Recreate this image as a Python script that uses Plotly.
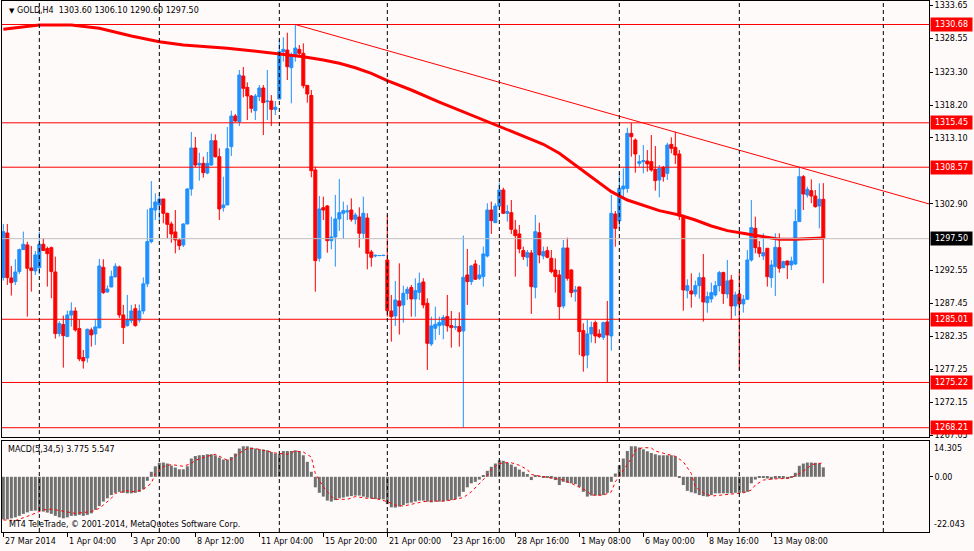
import plotly.graph_objects as go

# GOLD H4 bars, 27 Mar 2014 .. 13 May 2014
opens = [
    1291.47, 1298.38, 1291.42, 1290.85, 1292.40, 1295.80, 1296.53, 1292.96, 1292.50, 1293.01,
    1296.63, 1295.96, 1296.11, 1292.34, 1282.79, 1284.19, 1282.33, 1285.68, 1286.30, 1283.57,
    1279.08, 1279.03, 1283.36, 1282.74, 1283.67, 1293.07, 1289.24, 1290.02, 1291.57, 1293.12,
    1285.68, 1284.03, 1284.81, 1286.66, 1284.90, 1286.30, 1290.50, 1297.04, 1301.94, 1302.72,
    1303.65, 1301.43, 1299.77, 1298.54, 1297.30, 1296.52, 1299.77, 1305.20, 1311.55, 1308.91,
    1309.17, 1307.67, 1308.91, 1312.68, 1310.20, 1302.30, 1302.72, 1311.75, 1316.50, 1315.62,
    1322.70, 1320.94, 1319.60, 1317.33, 1319.50, 1320.84, 1318.72, 1318.82, 1317.53, 1319.13,
    1326.47, 1326.72, 1323.99, 1325.95, 1326.83, 1326.21, 1321.25, 1319.70, 1308.14, 1294.46,
    1302.30, 1302.56, 1297.19, 1297.76, 1300.55, 1301.43, 1301.63, 1301.94, 1300.50, 1300.86,
    1298.33, 1300.70, 1295.44, 1294.82, 1294.87, 1294.87, 1294.20, 1286.30, 1285.53, 1287.85,
    1287.23, 1289.04, 1289.92, 1288.16, 1289.19, 1290.79, 1287.49, 1281.19, 1283.62, 1284.03,
    1284.13, 1285.42, 1284.03, 1283.77, 1283.88, 1283.20, 1291.88, 1290.85, 1293.58, 1291.36,
    1291.62, 1294.82, 1301.94, 1299.98, 1302.56, 1305.04, 1301.43, 1301.53, 1298.85, 1298.23,
    1295.65, 1294.61, 1295.29, 1289.97, 1298.43, 1294.82, 1295.64, 1294.46, 1292.65, 1291.88,
    1287.07, 1296.06, 1292.65, 1289.29, 1290.02, 1283.25, 1279.48, 1282.74, 1284.49, 1282.74,
    1282.22, 1284.60, 1282.43, 1301.32, 1300.24, 1305.19, 1305.30, 1313.82, 1312.78, 1309.17,
    1309.43, 1309.53, 1309.43, 1308.24, 1306.59, 1308.55, 1307.62, 1312.11, 1311.65, 1310.62,
    1301.01, 1289.45, 1289.40, 1288.93, 1290.22, 1291.46, 1287.59, 1288.16, 1288.78, 1290.22,
    1292.24, 1288.93, 1291.10, 1287.07, 1288.93, 1287.39, 1288.11, 1294.20, 1299.10, 1296.11,
    1294.82, 1296.01, 1291.46, 1293.17, 1296.11, 1293.01, 1294.04, 1293.42, 1293.58, 1300.14,
    1307.11, 1304.27, 1304.94, 1304.11, 1302.56, 1303.60,
]
highs = [
    1299.78, 1299.78, 1293.27, 1294.31, 1295.96, 1298.59, 1297.04, 1296.37, 1295.60, 1298.59,
    1297.56, 1296.27, 1296.27, 1294.72, 1284.70, 1285.58, 1286.35, 1287.64, 1286.87, 1285.01,
    1280.26, 1283.57, 1283.72, 1285.01, 1294.36, 1294.31, 1290.28, 1292.55, 1293.69, 1293.32,
    1287.23, 1288.78, 1287.23, 1287.34, 1287.30, 1291.50, 1302.05, 1306.43, 1304.52, 1304.52,
    1303.65, 1301.53, 1300.13, 1301.94, 1297.55, 1299.88, 1305.30, 1314.02, 1313.25, 1310.82,
    1310.20, 1310.93, 1313.77, 1313.66, 1311.49, 1307.11, 1314.80, 1317.33, 1316.81, 1323.63,
    1324.09, 1321.72, 1319.75, 1319.91, 1321.30, 1321.30, 1323.63, 1319.75, 1318.82, 1328.27,
    1328.69, 1329.41, 1326.36, 1330.68, 1327.50, 1327.76, 1321.25, 1320.53, 1308.65, 1304.11,
    1304.01, 1302.72, 1300.91, 1304.27, 1306.74, 1303.23, 1302.72, 1303.75, 1301.53, 1302.36,
    1304.01, 1301.43, 1295.75, 1295.02, 1294.92, 1294.97, 1301.17, 1288.78, 1290.95, 1293.68,
    1290.22, 1290.07, 1290.33, 1291.36, 1292.24, 1291.36, 1288.26, 1285.42, 1286.97, 1285.42,
    1285.68, 1288.78, 1286.30, 1285.17, 1286.10, 1297.97, 1295.90, 1293.43, 1294.20, 1293.43,
    1296.27, 1302.98, 1303.24, 1302.98, 1306.18, 1305.40, 1302.72, 1303.49, 1300.40, 1299.62,
    1296.27, 1295.75, 1295.75, 1301.17, 1299.98, 1296.27, 1296.26, 1295.75, 1294.46, 1292.65,
    1297.30, 1297.66, 1292.75, 1290.17, 1290.07, 1284.39, 1285.01, 1284.65, 1284.80, 1283.46,
    1284.65, 1287.85, 1304.27, 1301.79, 1307.62, 1308.40, 1314.69, 1315.45, 1313.04, 1310.46,
    1312.01, 1311.23, 1313.56, 1311.85, 1308.91, 1308.76, 1312.37, 1313.20, 1314.07, 1311.23,
    1301.20, 1291.20, 1292.13, 1291.00, 1292.24, 1295.13, 1289.30, 1290.69, 1290.95, 1292.50,
    1292.39, 1294.20, 1291.88, 1289.30, 1292.24, 1288.78, 1295.75, 1303.49, 1300.91, 1297.14,
    1298.33, 1296.01, 1294.20, 1298.33, 1298.33, 1294.10, 1294.10, 1294.71, 1302.05, 1308.57,
    1307.36, 1305.56, 1306.69, 1305.04, 1306.07, 1306.10,
]
lows = [
    1291.00, 1290.33, 1288.68, 1290.33, 1292.03, 1295.75, 1285.42, 1289.30, 1291.88, 1291.98,
    1295.60, 1290.07, 1288.27, 1282.02, 1282.33, 1277.52, 1282.33, 1283.87, 1283.10, 1278.51,
    1277.37, 1278.30, 1280.78, 1281.04, 1283.67, 1288.94, 1289.14, 1289.97, 1291.52, 1285.22,
    1281.19, 1283.87, 1284.39, 1283.87, 1284.50, 1285.80, 1290.00, 1296.78, 1300.39, 1300.24,
    1299.88, 1297.55, 1296.88, 1295.23, 1295.75, 1296.21, 1299.77, 1304.16, 1308.60, 1306.49,
    1306.95, 1307.47, 1308.81, 1310.05, 1300.39, 1301.68, 1302.72, 1310.31, 1315.62, 1314.95,
    1319.39, 1315.88, 1317.02, 1315.88, 1318.82, 1313.56, 1315.88, 1314.95, 1316.66, 1319.13,
    1324.92, 1322.08, 1318.46, 1324.92, 1325.69, 1320.79, 1318.57, 1307.00, 1289.29, 1293.94,
    1300.39, 1295.33, 1295.85, 1293.17, 1298.69, 1297.45, 1300.39, 1300.14, 1299.72, 1296.11,
    1297.45, 1292.75, 1293.17, 1294.61, 1294.82, 1294.82, 1285.42, 1281.55, 1283.98, 1282.64,
    1284.49, 1288.00, 1285.42, 1285.42, 1288.01, 1286.71, 1277.16, 1280.88, 1281.81, 1282.59,
    1281.91, 1283.10, 1280.62, 1283.36, 1280.78, 1268.21, 1287.23, 1290.33, 1291.10, 1291.10,
    1290.07, 1294.61, 1298.23, 1299.98, 1302.46, 1301.33, 1300.14, 1298.23, 1291.62, 1295.23,
    1294.20, 1293.17, 1285.84, 1288.26, 1293.68, 1294.30, 1294.46, 1292.13, 1289.14, 1284.91,
    1286.71, 1291.00, 1288.42, 1287.74, 1279.48, 1276.90, 1277.42, 1281.39, 1281.29, 1282.07,
    1281.81, 1275.22, 1280.16, 1296.26, 1299.10, 1303.75, 1304.63, 1310.20, 1307.72, 1308.65,
    1307.62, 1307.88, 1307.88, 1304.94, 1303.90, 1306.33, 1306.59, 1310.72, 1309.07, 1300.39,
    1286.35, 1288.26, 1286.82, 1288.52, 1288.21, 1284.65, 1286.04, 1287.59, 1288.52, 1289.30,
    1287.39, 1288.26, 1285.01, 1285.53, 1277.16, 1286.04, 1288.00, 1293.94, 1295.23, 1294.61,
    1294.20, 1290.07, 1289.91, 1288.62, 1292.24, 1292.91, 1291.26, 1292.65, 1293.42, 1300.14,
    1301.94, 1303.85, 1302.98, 1302.31, 1299.10, 1290.60,
]
closes = [
    1298.59, 1291.47, 1290.69, 1292.34, 1295.80, 1296.63, 1292.91, 1292.55, 1294.98, 1296.63,
    1295.65, 1295.18, 1292.40, 1282.79, 1284.34, 1282.48, 1285.68, 1286.30, 1283.36, 1278.87,
    1278.56, 1283.46, 1282.59, 1283.83, 1293.27, 1289.14, 1289.71, 1291.62, 1293.22, 1285.68,
    1283.72, 1284.96, 1286.30, 1284.03, 1286.30, 1290.50, 1297.04, 1302.20, 1303.18, 1303.65,
    1301.43, 1299.72, 1298.23, 1297.30, 1296.42, 1299.77, 1305.20, 1311.55, 1308.91, 1309.17,
    1307.73, 1309.17, 1312.68, 1310.20, 1302.10, 1302.72, 1311.44, 1316.50, 1315.73, 1322.85,
    1320.79, 1319.60, 1317.69, 1319.60, 1320.84, 1318.57, 1318.82, 1317.53, 1317.84, 1326.47,
    1326.83, 1324.14, 1325.95, 1327.03, 1326.21, 1321.20, 1319.91, 1308.03, 1294.10, 1302.10,
    1301.94, 1297.19, 1297.76, 1300.55, 1301.53, 1301.84, 1301.79, 1300.50, 1301.17, 1298.33,
    1301.43, 1295.23, 1294.61, 1294.92, 1294.89, 1294.92, 1286.35, 1285.42, 1288.00, 1287.07,
    1289.04, 1289.66, 1288.16, 1289.45, 1290.59, 1287.23, 1281.29, 1283.98, 1284.24, 1284.50,
    1285.27, 1283.98, 1283.72, 1283.88, 1283.10, 1291.52, 1290.85, 1293.27, 1291.21, 1291.88,
    1295.13, 1301.94, 1300.29, 1302.56, 1305.04, 1301.43, 1301.69, 1298.95, 1297.97, 1295.90,
    1294.72, 1295.34, 1290.07, 1298.59, 1294.98, 1295.49, 1294.61, 1292.39, 1291.62, 1286.97,
    1296.06, 1291.36, 1289.14, 1289.55, 1283.10, 1279.33, 1282.74, 1283.77, 1282.43, 1282.32,
    1284.49, 1282.58, 1301.43, 1299.10, 1305.30, 1305.66, 1313.82, 1313.30, 1310.62, 1309.43,
    1309.58, 1309.07, 1308.14, 1306.49, 1308.40, 1307.10, 1312.01, 1311.49, 1310.46, 1301.01,
    1289.55, 1290.22, 1288.93, 1290.22, 1291.46, 1287.69, 1288.52, 1289.14, 1290.22, 1292.24,
    1288.99, 1290.95, 1287.07, 1288.78, 1287.39, 1288.11, 1294.20, 1299.21, 1296.11, 1295.23,
    1295.34, 1291.62, 1293.42, 1296.16, 1292.91, 1293.94, 1293.42, 1294.04, 1300.14, 1307.11,
    1304.42, 1305.14, 1304.11, 1302.46, 1303.60, 1297.50,
]

# MACD(5,34,5) main histogram, one value per bar
macd_hist = [
    -17.0, -17.0, -16.6, -16.2, -15.6, -14.8, -14.2, -13.6, -13.5, -13.6,
    -13.9, -14.3, -14.8, -15.6, -16.2, -16.6, -16.2, -15.6, -15.6, -15.2,
    -15.6, -15.2, -14.6, -13.2, -11.7, -9.9, -8.6, -7.3, -6.4, -6.0,
    -6.4, -6.6, -6.6, -6.4, -6.0, -5.0, -1.6, 2.0, 4.2, 5.6,
    5.7, 5.3, 4.5, 3.7, 3.0, 3.0, 4.2, 7.3, 8.3, 8.6,
    8.7, 9.0, 9.0, 8.6, 7.7, 6.9, 6.9, 7.9, 9.3, 11.3,
    12.2, 12.2, 11.7, 11.3, 11.1, 10.9, 10.6, 9.9, 9.3, 9.0,
    10.3, 10.3, 10.3, 10.6, 10.3, 8.6, 6.0, 2.0, -4.2, -6.4,
    -7.9, -9.5, -9.9, -9.3, -8.6, -8.3, -7.9, -7.7, -7.5, -7.5,
    -7.9, -8.3, -8.7, -8.9, -9.0, -9.0, -10.9, -12.2, -12.3, -11.9,
    -11.3, -10.6, -10.3, -9.9, -9.5, -9.5, -9.9, -10.2, -9.9, -9.9,
    -9.8, -9.5, -9.3, -8.9, -7.9, -6.0, -4.2, -2.6, -2.0, -1.1,
    0.4, 2.4, 4.0, 5.3, 6.6, 6.4, 5.6, 4.9, 4.0, 2.9,
    2.0, 1.1, -1.3, 0.4, 0.3, -0.3, -0.3, -0.7, -1.3, -3.3,
    -2.0, -2.4, -2.6, -2.9, -4.0, -6.0, -7.9, -7.5, -7.5, -7.5,
    -7.3, -6.4, -2.0, 1.3, 4.6, 7.3, 10.3, 12.2, 12.2, 11.7,
    11.0, 10.2, 9.5, 9.0, 8.6, 8.6, 8.6, 8.6, 8.2, -0.2,
    -3.3, -5.6, -6.2, -6.6, -7.3, -7.7, -7.9, -7.3, -6.6, -6.6,
    -6.6, -6.6, -6.6, -6.4, -6.4, -6.4, -6.0, -2.6, -1.1, -0.4,
    -0.3, -0.7, -1.1, -0.7, -0.7, -0.7, -0.9, -0.3, 1.6, 4.4,
    5.3, 5.7, 5.7, 5.6, 5.3, 3.775,
]

# MACD signal line, read at a subset of bars
sig_bar = [0, 3, 7, 10, 12, 15, 18, 22, 24, 27, 28, 31, 33, 35, 37, 38, 40, 42, 45, 47,
           48, 51, 53, 56, 57, 59, 61, 63, 66, 68, 71, 73, 75, 77, 78, 80, 82, 83, 86, 88,
           91, 93, 96, 98, 100, 102, 105, 107, 110, 112, 115, 117, 119, 121, 122, 124, 126,
           127, 129, 131, 132, 135, 137, 140, 142, 144, 146, 147, 150, 152, 153, 155, 157,
           158, 160, 162, 163, 166, 168, 170, 172, 173, 175, 177, 180, 182, 185, 187, 188,
           190, 192, 195, 197, 199, 201, 202, 204, 205]
sig_val = [-17.2, -17.5, -15.2, -13.2, -12.9, -13.9, -14.6, -13.9, -12.6, -8.6, -6.6, -5.6,
           -6.0, -5.0, -2.6, 1.3, 4.0, 4.9, 4.2, 5.3, 6.6, 8.2, 9.0, 6.6, 6.9, 9.5, 11.3,
           11.3, 10.3, 9.5, 9.0, 10.3, 9.9, 7.9, 1.3, -4.0, -7.9, -9.0, -9.0, -7.9, -8.6,
           -8.6, -9.9, -11.3, -11.7, -10.9, -9.9, -9.7, -9.7, -9.3, -8.3, -6.0, -2.6, 0.5,
           3.0, 5.3, 5.7, 5.6, 4.6, 2.9, 0.9, 0.0, -0.7, -1.3, -2.6, -4.0, -5.7, -7.3, -7.3,
           -6.0, -2.0, 2.6, 7.3, 10.6, 11.7, 11.5, 10.3, 9.0, 8.2, 6.0, 1.3, -4.0, -6.4,
           -7.7, -7.3, -6.9, -6.4, -5.3, -3.3, -1.3, -0.9, -0.7, -0.3, 1.3, 3.3, 4.9, 5.3,
           5.547]

# long moving average, read at a subset of bars
ma_bar = [0, 9, 17, 24, 32, 39, 45, 51, 56, 62, 68, 75, 80, 84, 88, 92, 96, 102, 109, 117,
          124, 129, 135, 139, 143, 148, 152, 156, 160, 164, 169, 173, 177, 181, 186, 190,
          194, 198, 202, 205]
ma_val = [1329.93, 1330.60, 1330.60, 1330.09, 1328.89, 1328.01, 1327.50, 1327.24, 1326.99,
          1326.62, 1326.21, 1325.69, 1325.18, 1324.67, 1323.98, 1323.12, 1321.97, 1320.53,
          1318.67, 1316.66, 1314.95, 1313.71, 1312.12, 1310.73, 1308.91, 1306.59, 1304.78,
          1303.49, 1302.61, 1301.84, 1301.17, 1300.39, 1299.46, 1298.74, 1298.22, 1297.81,
          1297.40, 1297.40, 1297.56, 1297.60]

# horizontal levels and the current price
levels = [1330.68, 1315.45, 1308.57, 1285.01, 1275.22, 1268.21]
last_price = 1297.50

# trendline through two touches (bar, price)
trend_bar = [73, 199]
trend_val = [1330.68, 1308.57]

price_ticks = [1333.65, 1328.55, 1323.30, 1318.20, 1313.10, 1302.90,
               1292.55, 1287.45, 1282.35, 1277.25, 1272.15, 1267.05]
date_bar = [0, 16, 32, 48, 64, 80, 96, 112, 128, 144, 160, 176, 192]
date_text = ["27 Mar 2014", "1 Apr 04:00", "3 Apr 20:00", "8 Apr 12:00", "11 Apr 04:00",
             "15 Apr 20:00", "21 Apr 00:00", "23 Apr 16:00", "28 Apr 16:00", "1 May 08:00",
             "6 May 00:00", "8 May 16:00", "13 May 08:00"]
week_bar = [9, 39, 69, 96, 124, 154, 184, 220]

RED = "#FF0000"
BLUE = "#1E90FF"
BG = "#FFFAFA"
FONT = "DejaVu Sans"

bars = list(range(len(opens)))
x_lo, x_hi = -0.33, 231.42

fig = go.Figure()

fig.add_trace(go.Candlestick(
    x=bars, open=opens, high=highs, low=lows, close=closes,
    increasing=dict(line=dict(color=BLUE, width=1), fillcolor=BLUE),
    decreasing=dict(line=dict(color=RED, width=1), fillcolor=RED),
    whiskerwidth=0, xaxis="x", yaxis="y", hoverinfo="skip",
))
fig.add_trace(go.Scatter(
    x=ma_bar, y=ma_val, mode="lines", line=dict(color=RED, width=3),
    xaxis="x", yaxis="y", hoverinfo="skip",
))

fig.add_trace(go.Bar(
    x=bars, y=macd_hist, width=0.75, marker=dict(color="#707070", line=dict(width=0)),
    xaxis="x2", yaxis="y2", hoverinfo="skip",
))
fig.add_trace(go.Scatter(
    x=sig_bar, y=sig_val, mode="lines", line=dict(color=RED, width=1, dash="dot"),
    xaxis="x2", yaxis="y2", hoverinfo="skip",
))

shapes = []
for lv in levels:
    shapes.append(dict(type="line", xref="x domain", yref="y", x0=0, x1=1, y0=lv, y1=lv,
                       line=dict(color=RED, width=1)))
shapes.append(dict(type="line", xref="x domain", yref="y", x0=0, x1=1,
                   y0=last_price, y1=last_price, line=dict(color="#C0C0C0", width=1)))

slope = (trend_val[1] - trend_val[0]) / (trend_bar[1] - trend_bar[0])
shapes.append(dict(type="line", xref="x", yref="y", x0=trend_bar[0], y0=trend_val[0],
                   x1=x_hi, y1=trend_val[0] + slope * (x_hi - trend_bar[0]),
                   line=dict(color=RED, width=1)))

for wb in week_bar:
    shapes.append(dict(type="line", xref="x", yref="paper", x0=wb, x1=wb, y0=0, y1=1,
                       line=dict(color="black", width=1, dash="4px,3px")))

annotations = []
for lv in levels:
    annotations.append(dict(text=f"{lv:.2f}", xref="paper", x=1, xanchor="left", xshift=1,
                            yref="y", y=lv, showarrow=False, bgcolor=RED, borderpad=1,
                            width=39, height=11, font=dict(color="white", size=8)))
annotations.append(dict(text=f"{last_price:.2f}", xref="paper", x=1, xanchor="left", xshift=1,
                        yref="y", y=last_price, showarrow=False, bgcolor="black", borderpad=1,
                        width=39, height=11, font=dict(color="white", size=8)))

for b, t in zip(date_bar, date_text):
    annotations.append(dict(text=t, xref="x2", x=b, xanchor="left", xshift=0,
                            yref="paper", y=0, yanchor="top", yshift=-3, showarrow=False))

annotations += [
    dict(text="<span style='font-size:7px'>▼</span> GOLD,H4&nbsp; 1303.60 1306.10 1290.60 1297.50",
         xref="paper", x=0, xanchor="left", xshift=5, yref="paper", y=1, yanchor="top",
         yshift=-3, showarrow=False),
    dict(text="MACD(5,34,5) 3.775 5.547", xref="paper", x=0, xanchor="left", xshift=4,
         yref="y2 domain", y=1, yanchor="top", yshift=-2, showarrow=False),
    dict(text="MT4 TeleTrade, © 2001-2014, MetaQuotes Software Corp.", xref="paper", x=0,
         xanchor="left", xshift=5, yref="y2 domain", y=0, yanchor="bottom", yshift=1,
         showarrow=False),
    dict(text="14.305", xref="paper", x=1, xanchor="left", xshift=3, yref="y2 domain", y=1,
         yanchor="top", yshift=-1, showarrow=False),
    dict(text="-22.043", xref="paper", x=1, xanchor="left", xshift=3, yref="y2 domain", y=0,
         yanchor="bottom", yshift=1, showarrow=False),
]

axis_common = dict(showgrid=False, zeroline=False, showline=True, linecolor="black",
                   linewidth=1, mirror=True, tickcolor="black")

fig.update_layout(
    width=974, height=551,
    margin=dict(l=2, r=45, t=1, b=19),
    paper_bgcolor=BG, plot_bgcolor=BG,
    showlegend=False, hovermode=False,
    font=dict(family=FONT, size=8, color="black"),
    boxgap=0.25, boxgroupgap=0,
    shapes=shapes, annotations=annotations,
    xaxis=dict(domain=[0, 1], range=[x_lo, x_hi], anchor="y", showticklabels=False,
               ticks="", rangeslider=dict(visible=False), **axis_common),
    yaxis=dict(domain=[0.179, 1], range=[1266.78, 1334.32], side="right", anchor="x",
               tickvals=price_ticks, ticktext=[f"{v:.2f}" for v in price_ticks],
               ticks="outside", ticklen=3, **axis_common),
    xaxis2=dict(domain=[0, 1], range=[x_lo, x_hi], anchor="y2", tickvals=date_bar,
                showticklabels=False, ticks="outside", ticklen=4, **axis_common),
    yaxis2=dict(domain=[0, 0.1714], range=[-22.043, 14.305], side="right", anchor="x2",
                tickvals=[0], ticktext=["0.00"], ticks="outside", ticklen=3, **axis_common),
)

fig.write_html("out.html", config={"displayModeBar": False},
               post_script="document.body.style.margin='0';")
